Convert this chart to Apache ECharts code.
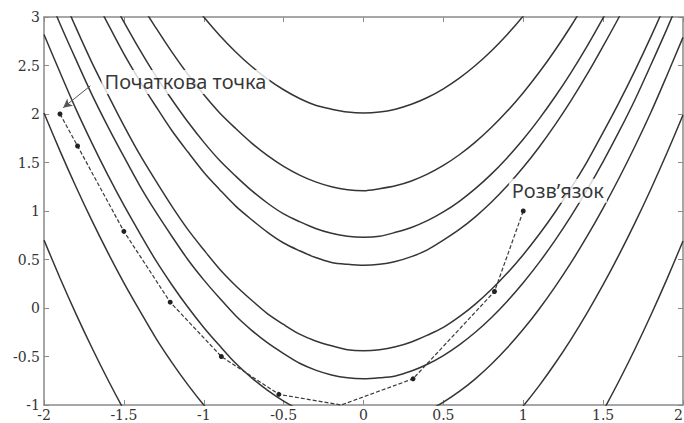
<!DOCTYPE html>
<html>
<head>
<meta charset="utf-8">
<script src="https://cdn.jsdelivr.net/npm/echarts@6/dist/echarts.min.js"></script>
<style>html,body{margin:0;padding:0;background:#fff}#c{width:684px;height:423px}</style>
</head>
<body>
<div id="c"></div>
<script>
// ---- data ----
// sample x positions along the contour curves
const xs = [-2,-1.9,-1.8,-1.7,-1.6,-1.5,-1.4,-1.3,-1.2,-1.1,-1,-0.9,-0.8,-0.7,-0.6,-0.5,-0.4,-0.3,-0.2,-0.1,0,
            0.1,0.2,0.3,0.4,0.5,0.6,0.7,0.8,0.9,1,1.1,1.2,1.3,1.4,1.5,1.6,1.7,1.8,1.9,2];
// contour branches (y values read at each x)
const c1Upper = [4.33,3.95,3.59,3.25,2.93,2.62,2.34,2.08,1.83,1.61,1.40,1.22,1.05,0.91,0.78,0.67,0.59,0.52,0.47,0.45,0.44,
                 0.45,0.48,0.53,0.60,0.70,0.81,0.94,1.09,1.26,1.45,1.66,1.89,2.14,2.41,2.70,3.00,3.33,3.68,4.05,4.44];
const c1Lower = [3.67,3.27,2.89,2.53,2.20,1.88,1.58,1.31,1.05,0.81,0.60,0.40,0.23,0.08,-0.06,-0.17,-0.27,-0.34,-0.39,-0.43,-0.44,
                 -0.43,-0.40,-0.35,-0.28,-0.20,-0.09,0.04,0.19,0.36,0.55,0.76,0.99,1.24,1.51,1.81,2.12,2.45,2.80,3.17,3.56];
const c2Upper = [4.68,4.29,3.92,3.58,3.25,2.95,2.66,2.39,2.15,1.92,1.71,1.52,1.36,1.21,1.08,0.97,0.89,0.82,0.77,0.74,0.73,
                 0.74,0.78,0.83,0.90,0.99,1.10,1.23,1.38,1.55,1.74,1.95,2.18,2.43,2.70,2.99,3.30,3.63,3.98,4.34,4.73];
const c2Lower = [3.33,2.93,2.56,2.20,1.87,1.56,1.26,0.99,0.74,0.50,0.29,0.10,-0.08,-0.23,-0.36,-0.47,-0.57,-0.64,-0.69,-0.72,-0.73,
                 -0.72,-0.70,-0.65,-0.58,-0.49,-0.38,-0.25,-0.10,0.07,0.26,0.47,0.70,0.95,1.22,1.51,1.82,2.15,2.51,2.88,3.27];
const c3Upper = [5.18,4.79,4.43,4.08,3.75,3.44,3.15,2.89,2.64,2.41,2.20,2.01,1.85,1.70,1.57,1.46,1.37,1.30,1.25,1.22,1.21,
                 1.23,1.26,1.31,1.38,1.47,1.58,1.71,1.86,2.03,2.22,2.43,2.66,2.91,3.18,3.47,3.78,4.11,4.46,4.83,5.21];
const c3Lower = [2.82,2.43,2.05,1.70,1.37,1.06,0.77,0.49,0.24,0.01,-0.20,-0.39,-0.57,-0.72,-0.85,-0.96,-1.05,-1.12,-1.17,-1.20,-1.21,
                 -1.21,-1.18,-1.13,-1.06,-0.97,-0.86,-0.73,-0.58,-0.41,-0.22,-0.01,0.22,0.47,0.74,1.03,1.34,1.67,2.02,2.40,2.79];
const c4Upper = [5.99,5.60,5.23,4.88,4.55,4.24,3.95,3.69,3.44,3.21,3.00,2.81,2.64,2.49,2.36,2.25,2.16,2.09,2.05,2.02,2.01,
                 2.02,2.05,2.10,2.17,2.26,2.37,2.50,2.65,2.82,3.01,3.22,3.45,3.70,3.97,4.26,4.57,4.90,5.25,5.62,6.01];
const c4Lower = [2.01,1.62,1.25,0.90,0.57,0.26,-0.03,-0.31,-0.56,-0.79,-1.00,-1.19,-1.36,-1.51,-1.64,-1.75,-1.84,-1.91,-1.97,-2.00,-2.01,
                 -2.00,-1.97,-1.92,-1.85,-1.76,-1.65,-1.52,-1.37,-1.20,-1.01,-0.80,-0.57,-0.32,-0.05,0.24,0.55,0.88,1.23,1.60,1.99];
const c5Lower = [0.70,0.31,-0.06,-0.41,-0.74,-1.05,-1.34,-1.61,-1.86,-2.09,-2.30,-2.49,-2.66,-2.81,-2.94,-3.05,-3.14,-3.21,-3.26,-3.30,-3.31,
                 -3.30,-3.27,-3.22,-3.15,-3.06,-2.95,-2.82,-2.67,-2.50,-2.31,-2.10,-1.87,-1.62,-1.35,-1.06,-0.75,-0.42,-0.07,0.30,0.69];

// iteration path
const pathX = [-1.9, -1.79, -1.5, -1.21, -0.89, -0.53, -0.14, 0.31, 0.82, 1.0];
const pathY = [2.0, 1.67, 0.79, 0.06, -0.5, -0.89, -1.0, -0.73, 0.17, 1.0];
const pathDot = [true, true, true, true, true, true, false, true, true, true];

// annotations
const noteTexts = ['Початкова точка', 'Розв’язок'];
const noteX = [-1.64, 0.91];
const noteY = [2.33, 1.21];
const arrowFrom = [-1.71, 2.29];
const arrowTo = [-1.88, 2.065];

// axes
const xMin = -2, xMax = 2, xStep = 0.5;
const yMin = -1, yMax = 3, yStep = 0.5;
const xTickLabels = ['-2','-1.5','-1','-0.5','0','0.5','1','1.5','2'];
const yTickLabels = ['-1','-0.5','0','0.5','1','1.5','2','2.5','3'];

// ---- chart ----
const chart = echarts.init(document.getElementById('c'), null, {renderer: 'svg'});
const axisGray = '#8a8a8a';
const lineCol = '#353535';
const labelFont = {fontFamily: 'DejaVu Serif', fontSize: 14, color: '#333'};

const branches = [c1Upper, c1Lower, c2Upper, c2Lower, c3Upper, c3Lower, c4Upper, c4Lower, c5Lower];
const series = branches.map(ys => ({
  type: 'line',
  data: xs.map((x, i) => [x, ys[i]]),
  showSymbol: false,
  smooth: 0.3,
  clip: true,
  silent: true,
  z: 2,
  lineStyle: {color: lineCol, width: 1.5}
}));

series.push({
  type: 'line',
  data: pathX.map((x, i) => pathDot[i] ? [x, pathY[i]] : {value: [x, pathY[i]], symbol: 'none'}),
  symbol: 'circle',
  symbolSize: 5,
  showSymbol: true,
  clip: false,
  z: 3,
  itemStyle: {color: '#222'},
  lineStyle: {color: '#3a3a3a', width: 1.2, type: [4, 2]}
});

series.push({
  type: 'scatter',
  data: noteTexts.map((t, i) => ({value: [noteX[i], noteY[i]], name: t})),
  symbolSize: 0,
  z: 10,
  label: {
    show: true,
    position: 'right',
    distance: 0,
    formatter: p => p.name,
    fontFamily: 'Noto Sans',
    fontSize: 20,
    color: '#000',
    backgroundColor: '#fff',
    padding: [2, 3]
  },
  markLine: {
    silent: true,
    symbol: ['none', 'arrow'],
    symbolSize: [7, 9],
    label: {show: false},
    lineStyle: {color: '#555', width: 1, type: 'solid'},
    data: [[{coord: arrowFrom}, {coord: arrowTo}]]
  }
});

function xLab(v) { return xTickLabels[Math.round((v - xMin) / xStep)]; }
function yLab(v) { return yTickLabels[Math.round((v - yMin) / yStep)]; }

const axisLineStyle = {lineStyle: {color: axisGray, width: 1.5}};
const axisTickStyle = {inside: true, length: 5, lineStyle: {color: axisGray, width: 1}};

chart.setOption({
  animation: false,
  grid: {left: 44, right: 1, top: 17, bottom: 18, outerBoundsMode: 'none', containLabel: false},
  xAxis: [
    {type: 'value', min: xMin, max: xMax, interval: xStep, position: 'bottom',
     axisLine: Object.assign({show: true, onZero: false}, axisLineStyle), axisTick: axisTickStyle,
     splitLine: {show: false},
     axisLabel: Object.assign({margin: 3, formatter: xLab, showMinLabel: true, showMaxLabel: true, alignMaxLabel: 'right'}, labelFont)},
    {type: 'value', min: xMin, max: xMax, interval: xStep, position: 'top',
     axisLine: Object.assign({show: true, onZero: false}, axisLineStyle), axisTick: axisTickStyle,
     splitLine: {show: false}, axisLabel: {show: false}}
  ],
  yAxis: [
    {type: 'value', min: yMin, max: yMax, interval: yStep, position: 'left',
     axisLine: Object.assign({show: true, onZero: false}, axisLineStyle), axisTick: axisTickStyle,
     splitLine: {show: false},
     axisLabel: Object.assign({margin: 4, formatter: yLab, showMinLabel: true, showMaxLabel: true}, labelFont)},
    {type: 'value', min: yMin, max: yMax, interval: yStep, position: 'right',
     axisLine: Object.assign({show: true, onZero: false}, axisLineStyle), axisTick: axisTickStyle,
     splitLine: {show: false}, axisLabel: {show: false}}
  ],
  series: series
});
</script>
</body>
</html>
